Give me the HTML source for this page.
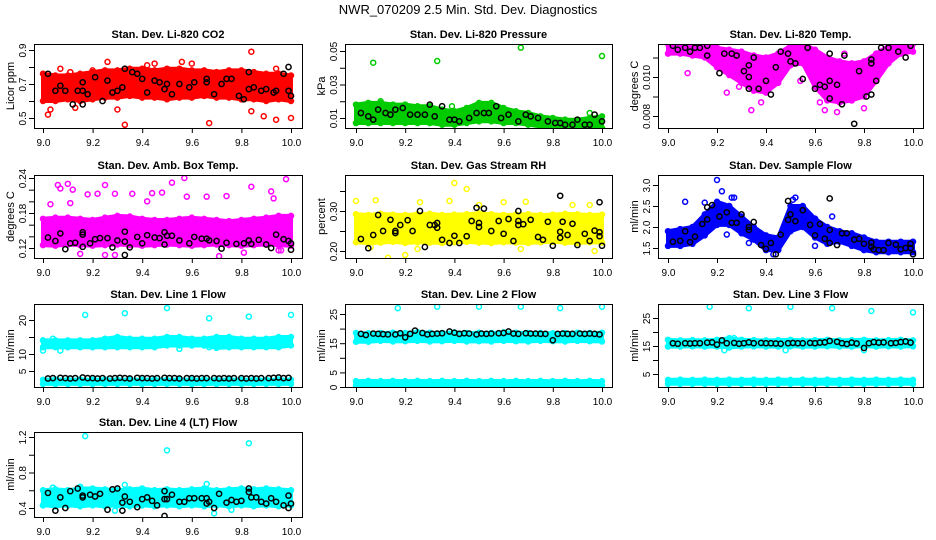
<!DOCTYPE html>
<html><head><meta charset="utf-8"><style>
html,body{margin:0;padding:0;background:#fff;}
svg{display:block;font-family:"Liberation Sans",Arial,sans-serif;}
</style></head><body>
<svg id="chart" width="936" height="540" viewBox="0 0 936 540">
<rect width="936" height="540" fill="#fff"/>
<text x="468" y="14" text-anchor="middle" font-size="13">NWR_070209  2.5 Min. Std. Dev. Diagnostics</text>
</svg>
<script>
// ---- data ----
const bandX = [9.0,9.05,9.1,9.15,9.2,9.25,9.3,9.35,9.4,9.45,9.5,9.55,9.6,9.65,9.7,9.75,9.8,9.85,9.9,9.95,10.0];
const xTicks = [9.0,9.2,9.4,9.6,9.8,10.0];
const xTickLabels = ["9.0","9.2","9.4","9.6","9.8","10.0"];
const blackX = [9.02,9.04,9.07,9.09,9.11,9.13,9.16,9.18,9.20,9.22,9.24,9.27,9.29,9.31,9.33,9.35,9.38,9.40,9.42,9.44,9.46,9.49,9.51,9.53,9.55,9.58,9.60,9.62,9.64,9.66,9.69,9.71,9.73,9.75,9.77,9.80,9.82,9.84,9.86,9.88,9.91,9.93,9.95,9.97,9.99];

// P1 CO2
const p1Lo = [.60,.60,.61,.60,.61,.62,.62,.63,.62,.62,.61,.62,.62,.63,.62,.62,.61,.61,.60,.61,.60];
const p1Hi = [.76,.75,.75,.76,.77,.78,.78,.79,.79,.78,.79,.79,.78,.78,.77,.78,.78,.77,.76,.76,.75];
const p1Out = [[9.02,0.52],[9.07,0.79],[9.26,0.83],[9.33,0.46],[9.42,0.81],[9.56,0.83],[9.67,0.47],[9.84,0.89],[9.84,0.54],[9.89,0.51],[9.94,0.79],[10.0,0.50],[9.94,0.49],[9.03,0.55],[9.13,0.56],[9.3,0.55],[9.6,0.82],[9.11,0.77],[9.45,0.82],[9.2,0.78]];
const p1Blk = [[9.02,0.76],[9.05,0.66],[9.07,0.69],[9.09,0.66],[9.12,0.58],[9.14,0.66],[9.16,0.66],[9.16,0.71],[9.16,0.58],[9.18,0.64],[9.21,0.74],[9.24,0.60],[9.26,0.72],[9.28,0.65],[9.30,0.66],[9.32,0.68],[9.33,0.79],[9.36,0.77],[9.38,0.76],[9.40,0.73],[9.42,0.65],[9.45,0.72],[9.47,0.71],[9.49,0.67],[9.50,0.70],[9.52,0.64],[9.55,0.70],[9.59,0.68],[9.61,0.71],[9.66,0.71],[9.66,0.73],[9.69,0.64],[9.72,0.70],[9.74,0.73],[9.76,0.73],[9.79,0.63],[9.81,0.61],[9.83,0.77],[9.83,0.67],[9.85,0.68],[9.88,0.66],[9.90,0.67],[9.93,0.65],[9.94,0.66],[9.97,0.76],[9.99,0.80],[9.99,0.66],[10.0,0.63]];
// P2 Pressure
const p2Lo = [.007,.007,.007,.007,.007,.007,.007,.006,.006,.007,.008,.008,.007,.007,.006,.005,.004,.004,.004,.004,.004];
const p2Hi = [.018,.019,.019,.018,.018,.017,.017,.015,.014,.016,.019,.019,.016,.014,.013,.011,.010,.009,.009,.010,.011];
const p2Out = [[9.07,0.043],[9.33,0.044],[9.67,0.052],[10.0,0.047],[9.1,0.020],[9.39,0.017],[9.95,0.013]];
const p2Blk = [[9.02,0.013],[9.05,0.011],[9.07,0.009],[9.09,0.015],[9.12,0.013],[9.14,0.012],[9.16,0.015],[9.19,0.016],[9.22,0.012],[9.25,0.012],[9.28,0.012],[9.30,0.018],[9.32,0.011],[9.35,0.017],[9.38,0.009],[9.40,0.009],[9.42,0.008],[9.46,0.010],[9.49,0.013],[9.52,0.013],[9.54,0.013],[9.57,0.017],[9.59,0.010],[9.62,0.012],[9.66,0.008],[9.69,0.012],[9.71,0.011],[9.74,0.010],[9.78,0.008],[9.81,0.007],[9.83,0.007],[9.85,0.006],[9.88,0.006],[9.90,0.009],[9.93,0.006],[9.95,0.006],[9.97,0.012],[10.0,0.008]];
// P3 Li-820 Temp
const p3Lo = [.0112,.0112,.0111,.0110,.0105,.0101,.0097,.0093,.0092,.0097,.0106,.0107,.0095,.0088,.0087,.0088,.0090,.0098,.0107,.0112,.0113];
const p3Hi = [.0117,.0117,.0117,.0117,.0115,.0114,.0113,.0111,.0110,.0112,.0116,.0117,.0114,.0110,.0108,.0107,.0108,.0112,.0116,.0117,.0117];
const p3Out = [[9.08,0.0102],[9.24,0.0092],[9.34,0.0083],[9.38,0.0087],[9.43,0.0096],[9.54,0.0098],[9.62,0.0087],[9.64,0.0083],[9.69,0.0082],[9.75,0.0088],[9.8,0.0084],[9.37,0.0094],[9.29,0.0095],[9.72,0.0112]];
const p3Blk = [[9.02,0.0116],[9.04,0.0114],[9.07,0.0115],[9.09,0.0113],[9.11,0.0115],[9.13,0.0115],[9.16,0.0116],[9.16,0.0111],[9.21,0.0102],[9.23,0.0112],[9.26,0.0112],[9.28,0.0111],[9.31,0.0103],[9.33,0.0106],[9.33,0.0100],[9.35,0.0110],[9.33,0.0094],[9.37,0.0094],[9.40,0.0098],[9.42,0.0091],[9.44,0.0105],[9.46,0.0113],[9.49,0.0112],[9.50,0.0108],[9.52,0.0107],[9.55,0.0099],[9.57,0.0115],[9.60,0.0094],[9.62,0.0096],[9.64,0.0095],[9.66,0.0098],[9.66,0.0089],[9.66,0.0112],[9.69,0.0096],[9.71,0.0086],[9.72,0.0111],[9.76,0.0076],[9.78,0.0103],[9.81,0.0090],[9.83,0.0091],[9.83,0.0109],[9.83,0.0107],[9.85,0.0098],[9.87,0.0115],[9.90,0.0115],[9.94,0.0113],[9.97,0.0110],[9.99,0.0116]];
// P4 Amb Box Temp
const p4Lo = [.125,.124,.126,.125,.124,.125,.126,.125,.124,.125,.126,.125,.124,.125,.126,.125,.124,.125,.126,.125,.124];
const p4Hi = [.170,.172,.172,.170,.168,.172,.175,.174,.170,.168,.168,.170,.172,.170,.168,.166,.168,.170,.172,.175,.175];
const p4Out = [[9.06,0.228],[9.07,0.222],[9.1,0.230],[9.12,0.220],[9.18,0.212],[9.22,0.213],[9.25,0.228],[9.29,0.213],[9.36,0.213],[9.44,0.214],[9.48,0.215],[9.52,0.232],[9.57,0.240],[9.58,0.208],[9.66,0.208],[9.74,0.209],[9.84,0.225],[9.92,0.217],[9.98,0.238],[9.03,0.195],[9.11,0.197],[9.42,0.20],[9.93,0.205],[9.25,0.108],[9.29,0.108],[9.15,0.110],[9.71,0.106],[9.95,0.116],[9.96,0.116],[9.81,0.112]];
const p4Blk = [[9.02,0.138],[9.05,0.132],[9.07,0.145],[9.09,0.118],[9.11,0.128],[9.13,0.129],[9.16,0.147],[9.16,0.122],[9.16,0.143],[9.19,0.128],[9.21,0.135],[9.23,0.137],[9.26,0.137],[9.28,0.121],[9.30,0.133],[9.33,0.148],[9.33,0.131],[9.33,0.108],[9.35,0.121],[9.38,0.139],[9.40,0.128],[9.42,0.142],[9.45,0.138],[9.47,0.137],[9.49,0.147],[9.50,0.141],[9.49,0.126],[9.52,0.141],[9.55,0.133],[9.59,0.128],[9.61,0.139],[9.64,0.136],[9.66,0.136],[9.67,0.133],[9.70,0.132],[9.72,0.119],[9.74,0.129],[9.78,0.127],[9.81,0.128],[9.83,0.133],[9.84,0.127],[9.87,0.134],[9.90,0.126],[9.92,0.120],[9.94,0.143],[9.97,0.135],[9.99,0.132],[10.0,0.128],[10.0,0.117]];
// P5 Gas Stream RH
const p5Lo = [.222,.220,.221,.223,.220,.222,.221,.220,.222,.223,.221,.220,.222,.221,.220,.222,.223,.221,.220,.222,.221];
const p5Hi = [.292,.290,.293,.291,.290,.292,.293,.290,.291,.292,.294,.292,.290,.291,.292,.290,.291,.293,.292,.290,.291];
const p5Out = [[9.0,0.325],[9.08,0.327],[9.13,0.183],[9.2,0.19],[9.26,0.322],[9.38,0.325],[9.40,0.37],[9.45,0.355],[9.6,0.322],[9.69,0.323],[9.88,0.315],[9.95,0.315],[9.97,0.20],[9.67,0.205],[9.25,0.205],[9.06,0.21],[9.5,0.315]];
const p5Blk = [[9.02,0.23],[9.05,0.207],[9.07,0.24],[9.09,0.29],[9.11,0.25],[9.14,0.278],[9.16,0.25],[9.16,0.245],[9.18,0.265],[9.21,0.277],[9.23,0.25],[9.26,0.30],[9.28,0.21],[9.30,0.265],[9.32,0.265],[9.33,0.27],[9.33,0.258],[9.35,0.228],[9.38,0.22],[9.40,0.238],[9.42,0.22],[9.45,0.237],[9.47,0.275],[9.49,0.308],[9.50,0.27],[9.50,0.26],[9.52,0.306],[9.55,0.25],[9.58,0.275],[9.60,0.243],[9.62,0.28],[9.64,0.225],[9.66,0.30],[9.66,0.275],[9.66,0.265],[9.68,0.267],[9.71,0.278],[9.74,0.235],[9.76,0.228],[9.78,0.273],[9.80,0.213],[9.83,0.338],[9.83,0.248],[9.83,0.233],[9.84,0.273],[9.86,0.24],[9.88,0.268],[9.90,0.215],[9.93,0.243],[9.95,0.225],[9.97,0.251],[9.99,0.322],[9.99,0.237],[9.99,0.247],[10.0,0.213]];
// P6 Sample Flow
const p6Lo = [1.55,1.55,1.6,1.8,2.05,2.05,1.85,1.7,1.45,1.45,1.9,2.0,1.75,1.6,1.65,1.55,1.45,1.4,1.4,1.4,1.4];
const p6Hi = [1.9,1.95,2.0,2.3,2.6,2.5,2.25,2.0,1.8,1.75,2.5,2.5,2.2,2.0,1.9,1.85,1.75,1.65,1.65,1.65,1.65];
const p6Out = [[9.07,2.6],[9.2,3.12],[9.22,2.85],[9.15,2.58],[9.27,2.7],[9.24,1.82],[9.26,2.7],[9.52,2.7],[9.51,2.65],[9.60,1.55],[9.43,1.35],[9.67,2.25],[9.33,1.62],[9.35,1.75]];
const p6Blk = [[9.02,1.65],[9.05,1.67],[9.07,1.9],[9.09,1.64],[9.11,1.77],[9.14,2.07],[9.16,2.18],[9.16,2.47],[9.18,2.52],[9.21,2.25],[9.24,2.35],[9.26,2.10],[9.28,2.10],[9.30,2.30],[9.33,2.0],[9.33,1.93],[9.35,2.12],[9.38,1.57],[9.40,1.48],[9.42,1.62],[9.44,1.35],[9.46,1.82],[9.49,2.62],[9.49,2.17],[9.50,2.30],[9.52,2.14],[9.55,2.40],[9.58,2.05],[9.60,1.80],[9.62,2.07],[9.64,1.72],[9.66,1.93],[9.66,1.62],[9.66,2.68],[9.69,1.57],[9.71,1.85],[9.73,1.85],[9.76,1.70],[9.78,1.72],[9.80,1.60],[9.83,1.53],[9.83,1.63],[9.84,1.47],[9.86,1.45],[9.88,1.45],[9.90,1.62],[9.93,1.58],[9.95,1.47],[9.97,1.50],[9.99,1.60],[9.99,1.50],[10.0,1.35]];
// P7 Line 1 Flow
const p7Lo = [12,12,12,12,12,12,12,12,12,12,12.5,12.5,12.5,12.5,11.8,12,12,12,12,12,12.5];
const p7Hi = [14,14,14,14,14,14.5,15,14.5,14.5,14.5,15,15,14.5,14.5,15,15,14.5,14.5,14.5,15,15];
const p7Lo2 = [1.2,1.2,1.2,1.2,1.2,1.2,1.2,1.2,1.2,1.2,1.2,1.2,1.2,1.2,1.2,1.2,1.2,1.2,1.2,1.2,1.2];
const p7Hi2 = [2.4,2.5,2.4,2.5,2.4,2.5,2.4,2.5,2.4,2.5,2.4,2.5,2.4,2.5,2.4,2.5,2.4,2.5,2.4,2.5,2.4];
const p7Out = [[9.0,11],[9.17,21.5],[9.33,22],[9.5,23.5],[9.67,20.5],[9.83,21],[10.0,21.5],[9.04,14.5],[9.07,11],[9.55,11.5],[9.67,12]];
const p7BlkY = [2.8,2.9,3.0,2.9,2.8,2.9,3.1,2.9,2.9,2.8,2.9,2.8,2.9,3.0,2.9,2.8,3.0,2.9,2.9,2.8,2.9,3.0,2.9,2.9,2.8,2.9,2.9,2.8,2.9,2.9,2.9,2.8,2.9,2.8,2.9,2.9,2.8,2.9,2.8,2.9,2.9,3.0,3.1,2.9,3.0];
// P8 Line 2 Flow
const p8Lo = [15.5,15.5,15.8,15.6,15.7,15.8,15.6,15.7,15.8,15.6,15.7,15.6,15.8,15.7,15.6,15.8,15.7,15.6,15.8,15.7,15.6];
const p8Hi = [18.5,18.4,18.5,18.6,18.5,18.8,18.6,18.5,18.7,18.5,18.6,18.5,18.7,18.6,18.5,18.5,18.4,18.5,18.6,18.5,18.6];
const p8Lo2 = [0.6,0.6,0.6,0.6,0.6,0.6,0.6,0.6,0.6,0.6,0.6,0.6,0.6,0.6,0.6,0.6,0.6,0.6,0.6,0.6,0.6];
const p8Hi2 = [2.0,2.1,2.0,2.1,2.0,2.1,2.0,2.1,2.0,2.1,2.0,2.1,2.0,2.1,2.0,2.1,2.0,2.1,2.0,2.1,2.0];
const p8Out = [[9.17,27],[9.33,27.5],[9.5,27.5],[9.67,27.5],[9.83,27],[10.0,27.5]];
const p8BlkY = [18.2,17.8,18.3,18.2,18.1,18.0,18.0,18.4,17.0,18.2,19.3,18.5,18.0,18.2,18.3,18.4,19.0,18.6,18.2,18.4,18.3,18.0,18.3,18.2,18.3,18.4,18.5,19.0,18.3,18.2,18.4,18.3,18.3,18.2,18.2,16.0,18.2,18.3,18.2,18.2,18.3,18.2,18.3,18.2,18.0];
// P9 Line 3 Flow
const p9Lo = [14.8,14.8,14.9,14.8,14.8,14.5,14.8,14.9,14.8,14.8,14.9,14.8,14.8,14.9,14.8,14.8,14.9,14.8,14.9,14.8,14.9];
const p9Hi = [17.2,17.0,17.1,17.0,17.2,17.8,17.2,17.1,17.0,17.1,17.2,17.0,17.1,17.2,17.0,17.1,17.2,17.0,17.1,17.2,17.0];
const p9Lo2 = [1.5,1.5,1.5,1.5,1.5,1.5,1.5,1.5,1.5,1.5,1.5,1.5,1.5,1.5,1.5,1.5,1.5,1.5,1.5,1.5,1.5];
const p9Hi2 = [2.9,3.0,2.9,3.0,2.9,3.0,2.9,3.0,2.9,3.0,2.9,3.0,2.9,3.0,2.9,3.0,2.9,3.0,2.9,3.0,2.9];
const p9Out = [[9.17,29],[9.33,28.5],[9.5,29],[9.67,28.5],[9.83,27.5],[10.0,27],[9.23,13.5],[9.48,13.5],[9.8,13.5],[9.27,17.8]];
const p9BlkY = [16.0,15.8,16.0,15.9,16.0,16.0,16.2,16.3,15.5,17.0,16.0,16.1,15.8,16.0,16.3,16.0,16.1,16.0,16.0,15.9,15.8,16.0,16.1,16.0,16.0,16.1,16.0,16.2,16.3,16.8,16.5,16.0,15.7,16.2,15.9,14.3,16.0,16.4,16.2,16.3,16.0,16.1,16.4,16.6,16.2];
// P10 Line 4 (LT) Flow
const p10Lo = [.43,.42,.43,.42,.43,.42,.43,.42,.43,.42,.43,.42,.43,.42,.43,.42,.43,.42,.43,.42,.43];
const p10Hi = [.60,.61,.60,.62,.62,.61,.60,.61,.62,.60,.61,.60,.61,.62,.60,.61,.62,.61,.62,.61,.60];
const p10Out = [[9.17,1.21],[9.5,1.05],[9.83,1.13],[9.0,0.43],[9.33,0.66],[9.66,0.67],[9.69,0.34],[9.29,0.37],[9.76,0.38],[9.04,0.63],[9.15,0.64]];
const p10Blk = [[9.02,0.57],[9.05,0.37],[9.07,0.52],[9.09,0.40],[9.11,0.59],[9.14,0.62],[9.16,0.52],[9.16,0.54],[9.19,0.55],[9.21,0.53],[9.23,0.56],[9.26,0.38],[9.28,0.61],[9.30,0.62],[9.32,0.37],[9.33,0.53],[9.32,0.46],[9.35,0.47],[9.38,0.41],[9.40,0.50],[9.42,0.52],[9.44,0.48],[9.46,0.43],[9.49,0.59],[9.49,0.50],[9.50,0.50],[9.49,0.31],[9.52,0.55],[9.55,0.47],[9.57,0.47],[9.59,0.51],[9.61,0.51],[9.64,0.51],[9.66,0.51],[9.67,0.47],[9.66,0.45],[9.69,0.40],[9.71,0.56],[9.74,0.46],[9.76,0.49],[9.78,0.47],[9.80,0.48],[9.83,0.58],[9.83,0.62],[9.84,0.52],[9.86,0.52],[9.88,0.47],[9.90,0.45],[9.92,0.51],[9.94,0.47],[9.97,0.43],[9.99,0.54],[9.99,0.40],[10.0,0.45]];

// ---- layout ----
const NS = "http://www.w3.org/2000/svg";
const svg = document.getElementById('chart');
const colBox = [[34,302,43,291],[345,612,356,602],[658,923,668,913]];
const rowBox = [[44,128],[175,258],[304,387],[432,517]];
function mk(tag, attrs, parent){const e=document.createElementNS(NS,tag);for(const k in attrs)e.setAttribute(k,attrs[k]);(parent||svg).appendChild(e);return e;}
function zip(xs,ys){return xs.map((x,i)=>[x,ys[i]]);}

const panels = [
 {key:'co2',title:'Stan. Dev. Li-820 CO2',ylab:'Licor ppm',col:0,row:0,color:'#ff0000',cal:[0.5,118,0.9,50],ticks:[0.5,0.6,0.7,0.8,0.9],labels:{0.5:'0.5',0.7:'0.7',0.9:'0.9'},bands:[[p1Lo,p1Hi]],out:p1Out,blk:p1Blk},
 {key:'pressure',title:'Stan. Dev. Li-820 Pressure',ylab:'kPa',col:1,row:0,color:'#00cc00',cal:[0.01,118,0.05,51],ticks:[0.01,0.02,0.03,0.04,0.05],labels:{0.01:'0.01',0.03:'0.03',0.05:'0.05'},bands:[[p2Lo,p2Hi]],out:p2Out,blk:p2Blk},
 {key:'temp',title:'Stan. Dev. Li-820 Temp.',ylab:'degrees C',col:2,row:0,color:'#ff00ff',cal:[0.008,116,0.010,77],ticks:[0.008,0.009,0.010,0.011],labels:{0.008:'0.008',0.010:'0.010'},bands:[[p3Lo,p3Hi]],out:p3Out,blk:p3Blk},
 {key:'amb-box',title:'Stan. Dev. Amb. Box Temp.',ylab:'degrees C',col:0,row:1,color:'#ff00ff',cal:[0.12,248,0.24,178],ticks:[0.12,0.14,0.16,0.18,0.20,0.22,0.24],labels:{0.12:'0.12',0.18:'0.18',0.24:'0.24'},bands:[[p4Lo,p4Hi]],out:p4Out,blk:p4Blk},
 {key:'rh',title:'Stan. Dev. Gas Stream RH',ylab:'percent',col:1,row:1,color:'#ffff00',cal:[0.20,251,0.30,211],ticks:[0.20,0.25,0.30,0.35],labels:{0.2:'0.20',0.3:'0.30'},bands:[[p5Lo,p5Hi]],out:p5Out,blk:p5Blk},
 {key:'sample-flow',title:'Stan. Dev. Sample Flow',ylab:'ml/min',col:2,row:1,color:'#0000ff',cal:[1.5,248,3.0,185],ticks:[1.5,2.0,2.5,3.0],labels:{1.5:'1.5',2:'2.0',2.5:'2.5',3:'3.0'},bands:[[p6Lo,p6Hi]],out:p6Out,blk:p6Blk},
 {key:'line1',title:'Stan. Dev. Line 1 Flow',ylab:'ml/min',col:0,row:2,color:'#00ffff',cal:[5,371,20,320],ticks:[5,10,15,20],labels:{5:'5',10:'10',20:'20'},bands:[[p7Lo,p7Hi],[p7Lo2,p7Hi2]],out:p7Out,blk:zip(blackX,p7BlkY)},
 {key:'line2',title:'Stan. Dev. Line 2 Flow',ylab:'ml/min',col:1,row:2,color:'#00ffff',cal:[0,387,25,314],ticks:[0,5,10,15,20,25],labels:{0:'0',5:'5',15:'15',25:'25'},bands:[[p8Lo,p8Hi],[p8Lo2,p8Hi2]],out:p8Out,blk:zip(blackX,p8BlkY)},
 {key:'line3',title:'Stan. Dev. Line 3 Flow',ylab:'ml/min',col:2,row:2,color:'#00ffff',cal:[5,374,25,318],ticks:[5,10,15,20,25],labels:{5:'5',15:'15',25:'25'},bands:[[p9Lo,p9Hi],[p9Lo2,p9Hi2]],out:p9Out,blk:zip(blackX,p9BlkY)},
 {key:'line4',title:'Stan. Dev. Line 4 (LT) Flow',ylab:'ml/min',col:0,row:3,color:'#00ffff',cal:[0.4,508,1.2,437],ticks:[0.4,0.6,0.8,1.0,1.2],labels:{0.4:'0.4',0.8:'0.8',1.2:'1.2'},bands:[[p10Lo,p10Hi]],out:p10Out,blk:p10Blk}
];

panels.forEach(p=>{
  const [L,R,x0,x1]=colBox[p.col]; const [T,B]=rowBox[p.row];
  const g=mk('g',{});
  
  
  const xs=v=>x0+(v-9)*(x1-x0);
  const [v1,py1,v2,py2]=p.cal;
  const ys=v=>py1+(v-v1)*(py2-py1)/(v2-v1);
  const cp=mk('clipPath',{id:'clip-'+p.key},g);
  mk('rect',{x:L,y:T,width:R-L,height:B-T},cp);
  const plot=mk('g',{'clip-path':'url(#clip-'+p.key+')'},g);
  p.bands.forEach(b=>{
    const [lo,hi]=b;
    const pts=bandX.map((x,i)=>xs(x).toFixed(1)+','+ys(hi[i]).toFixed(1)).concat(bandX.map((x,i)=>xs(x).toFixed(1)+','+ys(lo[i]).toFixed(1)).reverse());
    const poly=mk('polygon',{points:pts.join(' '),fill:p.color,stroke:p.color,'stroke-width':4,'stroke-linejoin':'round'},plot);
    
    
    bandX.forEach((x,i)=>{
      [lo[i],hi[i]].forEach(v=>{
        const c=mk('circle',{cx:xs(x),cy:ys(v),r:2.5,fill:'none',stroke:p.color,'stroke-width':1.5},plot);
        
        
      });
    });
  });
  p.out.forEach(d=>{
    const c=mk('circle',{cx:xs(d[0]),cy:ys(d[1]),r:2.5,fill:'none',stroke:p.color,'stroke-width':1.5},plot);
    
    
  });
  p.blk.forEach(d=>{
    const c=mk('circle',{cx:xs(d[0]),cy:ys(d[1]),r:2.6,fill:'none',stroke:'#000','stroke-width':1.5},plot);
    
    
  });
  const box=mk('rect',{x:L+0.5,y:T+0.5,width:R-L,height:B-T,fill:'none',stroke:'#000','stroke-width':1},g);
  
  
  const xa=mk('g',{},g);
  
  
  xTicks.forEach((t,i)=>{
    const x=xs(t)+0.5;
    mk('line',{x1:x,x2:x,y1:B,y2:B+5,stroke:'#000'},xa);
    const tx=mk('text',{x:x,y:B+18,'text-anchor':'middle','font-size':10},xa);
    tx.textContent=xTickLabels[i];
    
    
  });
  const ya=mk('g',{},g);
  
  
  p.ticks.forEach(t=>{
    const y=ys(t)+0.5;
    mk('line',{x1:L-5,x2:L,y1:y,y2:y,stroke:'#000'},ya);
    const key=Object.keys(p.labels).find(k=>Math.abs(parseFloat(k)-t)<1e-9);
    if(key!==undefined){
      const tx=mk('text',{x:0,y:0,'text-anchor':'middle','font-size':10,transform:`translate(${L-8},${y}) rotate(-90)`},ya);
      tx.textContent=p.labels[key];
      
      
    }
  });
  const yl=mk('text',{x:0,y:0,'text-anchor':'middle','font-size':11,transform:`translate(${L-20},${(T+B)/2}) rotate(-90)`},g);
  yl.textContent=p.ylab;
  
  
  const ti=mk('text',{x:(L+R)/2,y:T-6,'text-anchor':'middle','font-size':11,'font-weight':'bold'},g);
  ti.textContent=p.title;
  
  
});
</script>
</body></html>
